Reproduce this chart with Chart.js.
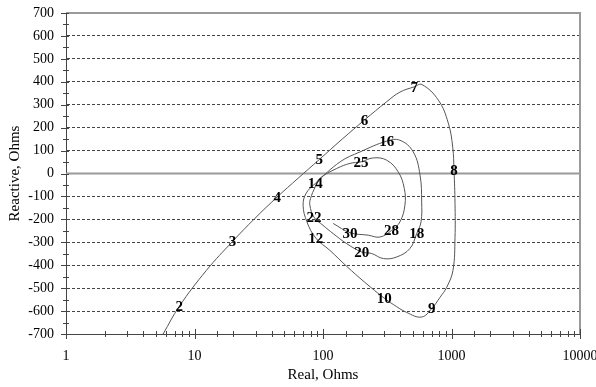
<!DOCTYPE html>
<html>
<head>
<meta charset="utf-8">
<script src="https://cdn.jsdelivr.net/npm/chart.js@4.4.1/dist/chart.umd.min.js"></script>
<style>
  html, body { margin: 0; padding: 0; background: #fff; }
  #wrap { width: 596px; height: 387px; }
</style>
</head>
<body>
<div id="wrap"><canvas id="impChart"></canvas></div>
<script>
// ── data ────────────────────────────────────────────────────
const realOhms = [
  5.7, 7.6, 12.4, 19.8, 29.6, 44.1, 63.9, 93.6, 141, 210,
  313, 397, 513, 589, 790, 944, 1022, 1046, 1065, 1065,
  1027, 918, 814, 702, 586, 448, 352, 300, 212, 153,
  113, 88, 75, 70, 74, 87, 136, 194, 313, 397,
  504, 569, 586, 579, 536, 475, 375, 295, 239, 200,
  153, 120, 100, 85, 79, 80, 87, 94, 128, 162,
  198, 246, 313, 385, 429, 434, 397, 342, 278, 225,
  162, 120,
];
const reactiveOhms = [
  -700, -580, -422, -296, -195, -102, -21, 61, 150, 233,
  313, 355, 378, 388, 320, 220, 115, 14, -130, -278,
  -422, -496, -540, -589, -626, -606, -571, -544, -475, -405,
  -335, -282, -211, -138, -86, -44, 51, 94, 141, 145,
  94, -7, -124, -211, -262, -327, -364, -371, -349, -342,
  -306, -262, -226, -190, -138, -109, -58, -22, 22, 44,
  51, 68, 58, 7, -65, -138, -211, -248, -277, -269,
  -258, -218,
];
// frequency labels and the curve point each one sits on
const freqLabels = ["2", "3", "4", "5", "6", "7", "8", "9", "10", "12", "14", "16", "18", "20", "22", "25", "28", "30"];
const freqIndex  = [1, 3, 5, 7, 9, 12, 17, 23, 27, 31, 35, 38, 44, 49, 53, 60, 67, 70];
const xMajorTicks = [1, 10, 100, 1000, 10000];

const SERIF = "'Liberation Serif', 'Times New Roman', serif";

// ── frame: top/right border, zero line, crossing tick marks ──
const frameMarks = {
  id: "frameMarks",
  beforeDatasetsDraw(chart) {
    const { ctx, chartArea: a, scales: { x, y } } = chart;
    ctx.save();
    ctx.strokeStyle = "#9a9a9a";
    ctx.lineWidth = 2;
    ctx.beginPath();
    ctx.moveTo(a.left, a.top);
    ctx.lineTo(a.right, a.top);
    ctx.lineTo(a.right, a.bottom);
    const y0 = y.getPixelForValue(0);
    ctx.moveTo(a.left, y0);
    ctx.lineTo(a.right, y0);
    ctx.stroke();

    ctx.strokeStyle = "#444";
    ctx.lineWidth = 1;
    ctx.beginPath();
    x.ticks.forEach(t => {
      const px = Math.round(x.getPixelForValue(t.value)) + 0.5;
      const h = xMajorTicks.includes(t.value) ? 5 : 3;
      ctx.moveTo(px, a.bottom - h);
      ctx.lineTo(px, a.bottom + h);
    });
    y.ticks.forEach(t => {
      const py = Math.round(y.getPixelForValue(t.value)) + 0.5;
      const major = t.value % 100 === 0;
      ctx.moveTo(a.left - (major ? 5 : 3), py);
      ctx.lineTo(a.left + 3, py);
    });
    ctx.stroke();
    ctx.restore();
  },
  afterDatasetsDraw(chart) {
    const { ctx, scales: { x, y } } = chart;
    ctx.save();
    ctx.font = "bold 15px " + SERIF;
    ctx.fillStyle = "#000";
    ctx.textAlign = "center";
    ctx.textBaseline = "middle";
    freqIndex.forEach((idx, i) => {
      ctx.fillText(freqLabels[i], x.getPixelForValue(realOhms[idx]), y.getPixelForValue(reactiveOhms[idx]) + 1);
    });
    ctx.restore();
  },
};

new Chart(document.getElementById("impChart"), {
  type: "scatter",
  data: {
    datasets: [{
      data: realOhms.map((r, i) => ({ x: r, y: reactiveOhms[i] })),
      showLine: true,
      borderColor: "#555",
      borderWidth: 1,
      pointRadius: 0,
      tension: 0.4,
      fill: false,
    }],
  },
  options: {
    responsive: true,
    maintainAspectRatio: false,
    animation: false,
    layout: { padding: { top: 13, right: 16, left: 0, bottom: 0 } },
    plugins: { legend: { display: false }, tooltip: { enabled: false } },
    scales: {
      x: {
        type: "logarithmic",
        min: 1,
        max: 10000,
        afterFit: s => {
          s.height = 53;
          s.paddingLeft = 0;
          s.paddingRight = 0;
        },
        grid: { drawOnChartArea: false, drawTicks: false },
        border: { display: true, color: "#444", width: 1 },
        ticks: {
          autoSkip: false,
          maxRotation: 0,
          padding: 14,
          color: "#000",
          font: { family: SERIF, size: 14 },
          callback: v => xMajorTicks.includes(v) ? String(v) : "",
        },
        title: {
          display: true,
          text: "Real, Ohms",
          color: "#000",
          font: { family: SERIF, size: 15 },
          padding: { top: 0, bottom: 3 },
        },
      },
      y: {
        min: -700,
        max: 700,
        afterFit: s => {
          s.width = 66;
          s.paddingTop = 0;
          s.paddingBottom = 0;
        },
        grid: {
          drawTicks: false,
          color: c => {
            const v = c.tick.value;
            if (v % 100 !== 0 || v === 0 || Math.abs(v) === 700) return "rgba(0,0,0,0)";
            return "#444";
          },
        },
        border: { display: true, color: "#444", width: 1, dash: [3, 2] },
        ticks: {
          stepSize: 50,
          autoSkip: false,
          padding: 12,
          color: "#000",
          font: { family: SERIF, size: 14 },
          callback: v => v % 100 === 0 ? String(v) : "",
        },
        title: {
          display: true,
          text: "Reactive, Ohms",
          color: "#000",
          font: { family: SERIF, size: 15 },
          padding: { top: 6, bottom: 0 },
        },
      },
    },
  },
  plugins: [frameMarks],
});
</script>
</body>
</html>
